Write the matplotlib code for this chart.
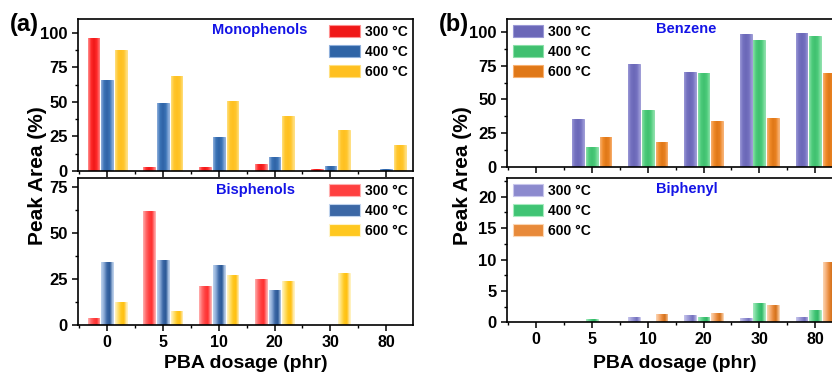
import numpy as np
import matplotlib
matplotlib.use('Agg')
import matplotlib.pyplot as plt
from matplotlib.colors import LinearSegmentedColormap
from matplotlib.patches import Patch
from matplotlib.ticker import MultipleLocator

plt.rcParams['font.family'] = ['Liberation Sans', 'DejaVu Sans']
plt.rcParams['font.weight'] = 'bold'

# data (peak area %)
dosage = ['0', '5', '10', '20', '30', '80']
temps = ['300 °C', '400 °C', '600 °C']

mono_300 = [96.4, 3.0, 2.7, 4.9, 1.2, 0.0]
mono_400 = [66.0, 49.0, 24.5, 10.0, 3.9, 1.2]
mono_600 = [87.4, 69.0, 51.0, 39.6, 29.9, 18.9]

bis_300 = [4.0, 62.3, 21.5, 25.2, 0.0, 0.0]
bis_400 = [34.5, 35.2, 32.9, 19.4, 0.0, 0.0]
bis_600 = [12.7, 7.6, 27.1, 24.3, 28.3, 0.0]

benz_300 = [0.0, 35.6, 76.4, 70.2, 99.2, 99.7]
benz_400 = [0.0, 14.3, 42.1, 69.7, 94.0, 97.7]
benz_600 = [0.0, 22.3, 18.5, 33.6, 36.3, 69.4]

biph_300 = [0.0, 0.0, 0.78, 1.1, 0.68, 0.8]
biph_400 = [0.0, 0.57, 0.1, 0.9, 3.0, 2.0]
biph_600 = [0.0, 0.0, 1.3, 1.46, 2.8, 9.6]

# gradient stops (left -> right) for each series
grad_mono = [['#ff9090', '#ff2a2a', '#f01818', '#ff2a2a', '#ff8080'],
             ['#8fb0dc', '#3b73b6', '#2f64a6', '#3b73b6', '#8fb0dc'],
             ['#ffe080', '#ffc62c', '#ffc020', '#ffc62c', '#ffdf80']]
grad_bis = [['#ffb0b0', '#ff6a6a', '#ff4040', '#ff3030', '#ffa0a0'],
            ['#c0d4ee', '#8aaad6', '#3c68a6', '#2a5896', '#b8cde9'],
            ['#fff4c8', '#ffe070', '#ffc820', '#ffc010', '#fff0c0']]
grad_benz = [['#9a98d6', '#7370bf', '#6b68b8', '#7370bf', '#9a98d6'],
             ['#8ae0a8', '#4ccb7a', '#40c070', '#4ccb7a', '#8ae0a8'],
             ['#f8b070', '#f08a28', '#e07818', '#e88020', '#f8b070']]
grad_biph = [['#c8c6ec', '#a8a6dc', '#8c8ace', '#7370bd', '#b0aee0'],
             ['#a8ecc0', '#70d898', '#40c474', '#30b866', '#a0e8b8'],
             ['#fbd6b4', '#f6b07a', '#e88a3a', '#d4701a', '#f6c090']]

x = np.arange(len(dosage))
off = 0.245
w = 0.21


def gradbars(ax, vals, grads, ylim):
    for k, v in enumerate(vals):
        cmap = LinearSegmentedColormap.from_list('g', grads[k])
        bars = ax.bar(x + (k - 1) * off, v, w, color=grads[k][2], edgecolor=grads[k][0],
                      linewidth=0.6, zorder=2)
        g = np.linspace(0, 1, 64).reshape(1, -1)
        for b in bars:
            if b.get_height() <= 0:
                continue
            bx, by = b.get_x(), b.get_y()
            im = ax.imshow(g, cmap=cmap, extent=[bx, bx + b.get_width(), by, by + b.get_height()],
                           aspect='auto', zorder=2.5, interpolation='bilinear')
            im.set_clip_path(b)
    ax.set_xlim(-0.52, 5.48)
    ax.set_ylim(*ylim)


def style(ax, major, labels):
    ax.set_xticks(x)
    ax.xaxis.set_minor_locator(MultipleLocator(0.5))
    ax.yaxis.set_major_locator(MultipleLocator(major))
    ax.yaxis.set_minor_locator(MultipleLocator(major / 2))
    ax.tick_params(axis='both', which='major', direction='out', length=4, width=1.1, labelsize=12)
    ax.tick_params(axis='x', which='major', labelsize=11.5, pad=3)
    ax.tick_params(axis='both', which='minor', direction='out', length=2.5, width=1.0)
    if labels:
        ax.set_xticklabels(dosage)
    else:
        ax.set_xticklabels([])
    for s in ax.spines.values():
        s.set_linewidth(1.2)


def legend(ax, grads, loc, anchor):
    h = [Patch(facecolor=g[2], edgecolor=g[0], linewidth=0.8) for g in grads]
    ax.legend(h, temps, loc=loc, bbox_to_anchor=anchor, frameon=False, fontsize=10,
              handlelength=2.2, handleheight=1.05, labelspacing=0.42, handletextpad=0.35,
              borderpad=0.2, borderaxespad=0.2)


fig = plt.figure(figsize=(8.32, 3.73), dpi=100)

ax1 = fig.add_axes([0.0938, 0.5416, 0.4026, 0.4075])
gradbars(ax1, [mono_300, mono_400, mono_600], grad_mono, (0, 110))
style(ax1, 25, False)
legend(ax1, grad_mono, 'upper right', (1.0, 1.0))
ax1.text(0.543, 0.928, 'Monophenols', transform=ax1.transAxes, color='#1414e6',
         fontsize=10.5, ha='center', va='center')

ax2 = fig.add_axes([0.0938, 0.128, 0.4026, 0.3948])
gradbars(ax2, [bis_300, bis_400, bis_600], grad_bis, (0, 80))
style(ax2, 25, True)
legend(ax2, grad_bis, 'upper right', (1.0, 1.0))
ax2.text(0.531, 0.916, 'Bisphenols', transform=ax2.transAxes, color='#1414e6',
         fontsize=10.5, ha='center', va='center')

ax3 = fig.add_axes([0.6094, 0.5536, 0.4026, 0.3954])
gradbars(ax3, [benz_300, benz_400, benz_600], grad_benz, (0, 110))
style(ax3, 25, False)
legend(ax3, grad_benz, 'upper left', (0.0, 1.0))
ax3.text(0.534, 0.932, 'Benzene', transform=ax3.transAxes, color='#1414e6',
         fontsize=10.5, ha='center', va='center')

ax4 = fig.add_axes([0.6094, 0.136, 0.4026, 0.3868])
gradbars(ax4, [biph_300, biph_400, biph_600], grad_biph, (0, 23))
style(ax4, 5, True)
legend(ax4, grad_biph, 'upper left', (0.0, 1.0))
ax4.text(0.537, 0.926, 'Biphenyl', transform=ax4.transAxes, color='#1414e6',
         fontsize=10.5, ha='center', va='center')

fig.text(0.012, 0.935, '(a)', fontsize=17, va='center')
fig.text(0.528, 0.935, '(b)', fontsize=17, va='center')
fig.text(0.045, 0.53, 'Peak Area (%)', rotation=90, fontsize=15, ha='center', va='center')
fig.text(0.556, 0.53, 'Peak Area (%)', rotation=90, fontsize=15, ha='center', va='center')
fig.text(0.296, 0.003, 'PBA dosage (phr)', fontsize=14, ha='center', va='bottom')
fig.text(0.811, 0.003, 'PBA dosage (phr)', fontsize=14, ha='center', va='bottom')

fig.savefig('out.png', dpi=100)
